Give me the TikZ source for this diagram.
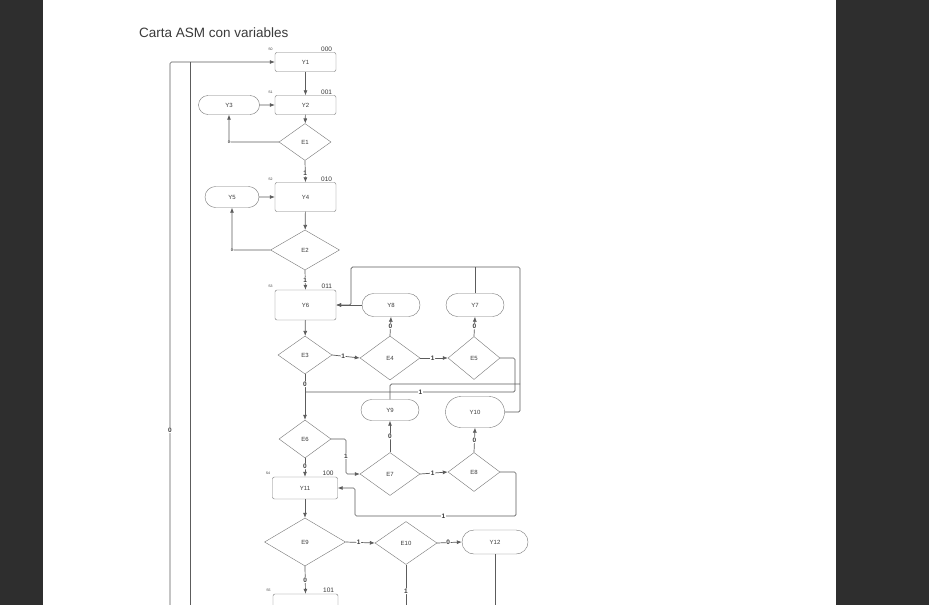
\documentclass[tikz,border=0pt]{standalone}
\usepackage{fontspec}
\setmainfont{Liberation Sans}
\usetikzlibrary{shapes.geometric,shapes.misc,arrows.meta}

\begin{document}
\begin{tikzpicture}[x=1pt,y=-1pt,
  stbox/.style 2 args={draw=boxgray,rounded corners=2pt,minimum width=#1,minimum height=#2,inner sep=0,font=\fontsize{6}{7}\selectfont,text=inkgray},
  pill/.style 2 args={rounded rectangle,draw=boxgray,minimum width=#1,minimum height=#2,inner sep=0,font=\fontsize{6}{7}\selectfont,text=inkgray},
  dec/.style 2 args={diamond,draw=boxgray,minimum width=#1,minimum height=#2,inner sep=0,font=\fontsize{6}{7}\selectfont,text=inkgray},
  stcode/.style={anchor=south east,xshift=-4pt,yshift=1pt,inner sep=0,font=\fontsize{6.5}{7}\selectfont,text=inkgray},
  stname/.style={anchor=south east,xshift=-2pt,yshift=2pt,inner sep=0,font=\fontsize{3.5}{4}\selectfont,text=inkgray},
  lbl/.style={fill=white,inner sep=0.6pt,font=\bfseries\fontsize{6.5}{7}\selectfont,text=inkgray},
  ln/.style={draw=linegray,line width=0.7pt,rounded corners=1.5pt},
  arr/.style={ln,-{Latex[length=5pt,width=4pt]}}]
\definecolor{pagedark}{HTML}{2E2E2E}
\definecolor{linegray}{HTML}{5C5C5C}
\definecolor{boxgray}{HTML}{777777}
\definecolor{inkgray}{HTML}{3A3A3A}
\useasboundingbox (0,0) rectangle (929,605);
\fill[pagedark] (0,0) rectangle (929,605);
\fill[white] (43,0) rectangle (836,605);
\clip (0,0) rectangle (929,605);

\node[anchor=west,inner sep=0,font=\fontsize{13.5}{15}\selectfont,text=inkgray] (title) at (139,33) {Carta ASM con variables};

% states and outputs
\node[stbox={61pt}{19pt},label={[stcode]north east:000},label={[stname]north west:S0}] (Y1) at (305.5,62) {Y1};
\node[stbox={61pt}{19pt},label={[stcode]north east:001},label={[stname]north west:S1}] (Y2) at (305.5,105) {Y2};
\node[pill={61pt}{19pt}] (Y3) at (229,105) {Y3};
\node[dec={52pt}{37pt}] (E1) at (305,142) {E1};
\node[stbox={61pt}{29pt},label={[stcode]north east:010},label={[stname]north west:S2}] (Y4) at (305.5,197) {Y4};
\node[pill={54pt}{21pt}] (Y5) at (232,197) {Y5};
\node[dec={69pt}{40pt}] (E2) at (305,250) {E2};
\node[stbox={61pt}{30pt},label={[stcode]north east:011},label={[stname]north west:S3}] (Y6) at (305.5,305) {Y6};
\node[pill={58pt}{23pt}] (Y8) at (391,305) {Y8};
\node[pill={58pt}{23pt}] (Y7) at (475,305) {Y7};
\node[dec={54pt}{38pt}] (E3) at (305,355) {E3};
\node[dec={60pt}{44pt}] (E4) at (390,358) {E4};
\node[dec={52pt}{43pt}] (E5) at (474,358) {E5};
\node[pill={58pt}{21pt}] (Y9) at (390,410) {Y9};
\node[pill={59pt}{31pt}] (Y10) at (475,412) {Y10};
\node[dec={52pt}{38pt}] (E6) at (305,439) {E6};
\node[dec={60pt}{43pt}] (E7) at (390,474) {E7};
\node[dec={52pt}{39pt}] (E8) at (474,472) {E8};
\node[stbox={65pt}{22pt},label={[stcode]north east:100},label={[stname]north west:S4}] (Y11) at (305,488) {Y11};
\node[dec={81pt}{48pt}] (E9) at (305,542) {E9};
\node[dec={62pt}{43pt}] (E10) at (406,543) {E10};
\node[pill={66pt}{24pt}] (Y12) at (495,542) {Y12};
\node[stbox={65pt}{30pt},label={[stcode]north east:101},label={[stname]north west:S5}] (Y13) at (305.5,609) {};

% helper points
\coordinate (lpA) at (170,605);
\coordinate (lpB) at (190,605);
\coordinate (rt) at (520,267);
\coordinate (lt) at (351,267);
\coordinate (y9j) at (520,384);
\coordinate (e5a) at (515,392);
\coordinate (e6a) at (346,456);
\coordinate (e8a) at (516,516);
\coordinate (e8b) at (355,516);
\coordinate (bot) at (0,605);

% connectors
\draw[arr] (lpA) |- node[lbl,pos=0.161]{0} (Y1.west);
\draw[ln] (lpB) -- (lpB |- Y1.west);
\draw[arr] (Y1) -- (Y2);
\draw[arr] (Y3) -- (Y2);
\draw[arr] (Y2) -- (E1);
\draw[arr] (E1.west) -| node[lbl,pos=0.5,font=\bfseries\fontsize{4}{5}\selectfont]{0} (Y3.south);
\draw[arr] (E1.south) -- node[lbl,pos=0.6]{1} (Y4.north);
\draw[arr] (Y5) -- (Y4);
\draw[arr] (Y4) -- (E2);
\draw[arr] (E2.west) -| node[lbl,pos=0.5,font=\bfseries\fontsize{4}{5}\selectfont]{0} (Y5.south);
\draw[arr] (E2.south) -- node[lbl,pos=0.5]{1} (Y6.north);
\draw[arr] (Y8.west) -- (Y6.east);
\draw[arr] (Y10.east) -| (rt) -- (lt) |- (Y6.east);
\draw[ln] (Y7.north) -- (Y7.north |- rt);
\draw[ln] (Y9.north) |- (y9j);
\draw[arr] (Y6) -- (E3);
\draw[arr] (E3.east) -- node[lbl,pos=0.4]{1} (E4.west);
\draw[arr] (E4.east) -- node[lbl,pos=0.45]{1} (E5.west);
\draw[arr] (E4.north) -- node[lbl,pos=0.5]{0} (Y8.south);
\draw[arr] (E5.north) -- node[lbl,pos=0.5]{0} (Y7.south);
\draw[ln] (E5.east) -| (e5a) -- node[lbl,pos=0.45]{1} (e5a -| E3.south);
\draw[arr] (E3.south) -- node[lbl,pos=0.22]{0} (E6.north);
\draw[arr] (E6.east) -| (e6a) node[lbl]{1} |- (E7.west);
\draw[arr] (E6.south) -- node[lbl,pos=0.45]{0} (Y11.north);
\draw[arr] (E7.north) -- node[lbl,pos=0.5]{0} (Y9.south);
\draw[arr] (E8.north) -- node[lbl,pos=0.5]{0} (Y10.south);
\draw[arr] (E7.east) -- node[lbl,pos=0.45]{1} (E8.west);
\draw[arr] (E8.east) -| (e8a) -- node[lbl,pos=0.45]{1} (e8b) |- (Y11.east);
\draw[arr] (Y11) -- (E9);
\draw[arr] (E9.east) -- node[lbl,pos=0.45]{1} (E10.west);
\draw[arr] (E10.east) -- node[lbl,pos=0.45]{0} (Y12.west);
\draw[ln] (E10.south) -- node[lbl,pos=0.66]{1} (E10.south |- bot);
\draw[ln] (Y12.south) -- (Y12.south |- bot);
\draw[arr] (E9.south) -- node[lbl,pos=0.5]{0} (Y13.north);
\end{tikzpicture}
\end{document}
